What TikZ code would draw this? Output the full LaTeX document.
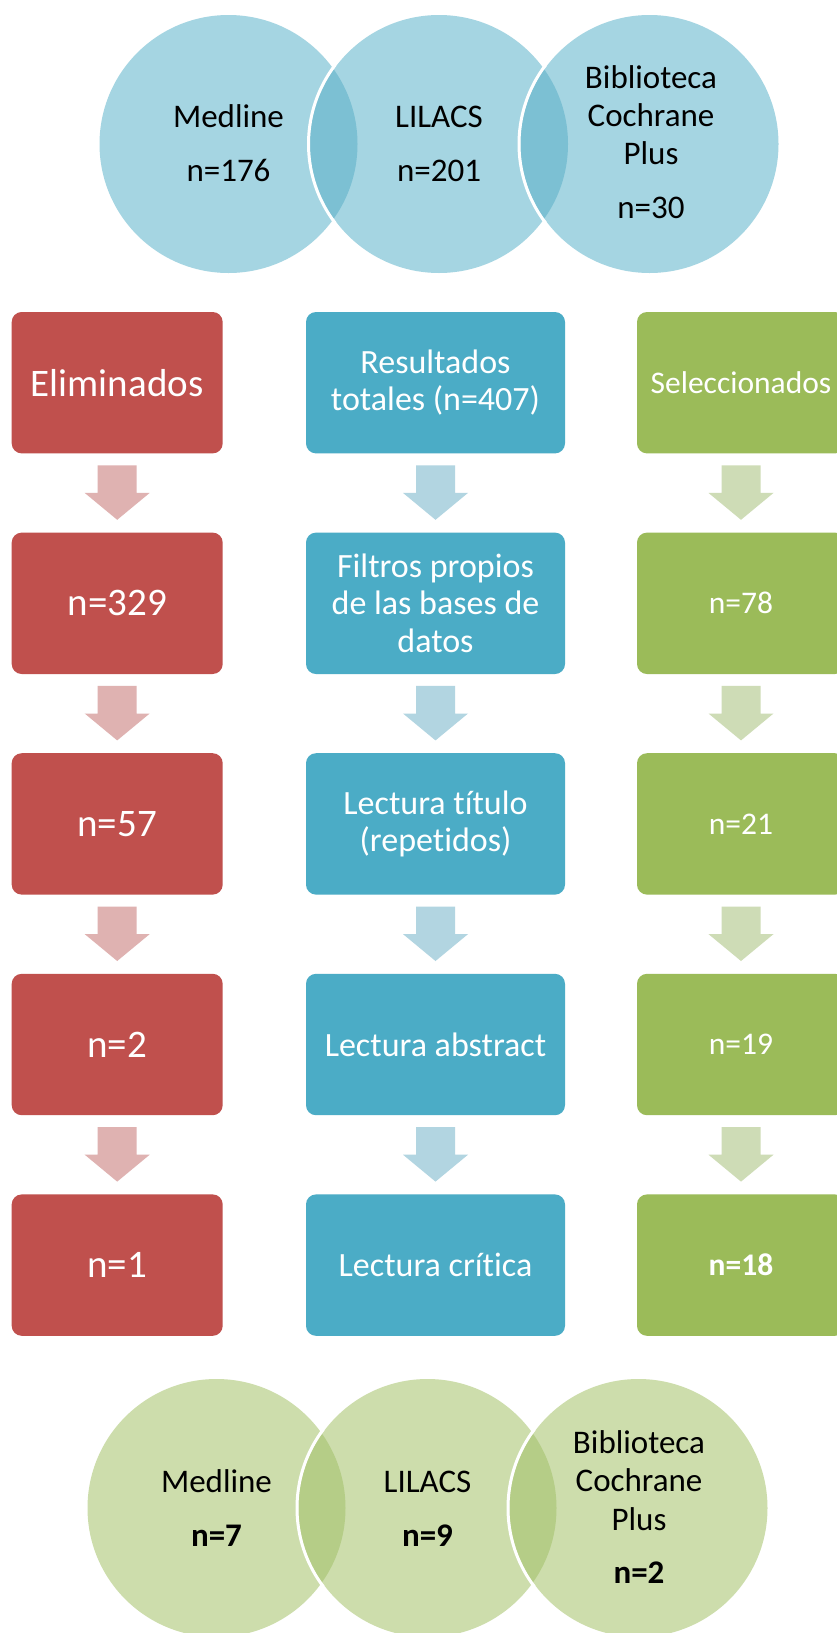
\documentclass[tikz,border=0pt]{standalone}
\usepackage{fontspec}
\setmainfont{Carlito}[Ligatures=NoCommon]
\usetikzlibrary{calc}
\definecolor{redc}{HTML}{C0504D}
\definecolor{bluec}{HTML}{4BACC6}
\definecolor{greenc}{HTML}{9BBB59}
\definecolor{redarr}{HTML}{DFB2B1}
\definecolor{bluearr}{HTML}{B2D5E1}
\definecolor{greenarr}{HTML}{CEDCB6}
\definecolor{topc}{HTML}{A5D5E2}
\definecolor{topdark}{HTML}{7CC0D3}
\definecolor{botc}{HTML}{CDDDAC}
\definecolor{botdark}{HTML}{B5CD87}
\newcommand\downblk[3]{%
  \fill[#3] ($(#1.south)+(-19.5,11.7)$) -- ($(#1.south)+(19.5,11.7)$)
    -- ($(#1.south)+(19.5,39.3)$) -- ($(#1.south)+(32.5,39.3)$)
    -- ($(#2.north)+(0,-12.6)$) -- ($(#1.south)+(-32.5,39.3)$)
    -- ($(#1.south)+(-19.5,39.3)$) -- cycle;}
\newcommand\vennlens[4]{%
  \begin{scope}
    \clip (#1.center) circle[radius=129pt];
    \fill[#3] (#2.center) circle[radius=129pt];
  \end{scope}
  \begin{scope}
    \clip (#1.center) circle[radius=133pt];
    \draw[white, line width=3pt] (#2.center) circle[radius=130.5pt];
  \end{scope}}
\begin{document}
\begin{tikzpicture}[x=1pt,y=-1pt,
  box/.style={rectangle, rounded corners=10pt, inner sep=0pt, minimum height=141.4pt, text=white, align=center},
  redbox/.style={box, fill=redc, minimum width=211pt, font=\fontsize{39pt}{43pt}\selectfont},
  bluebox/.style={box, fill=bluec, minimum width=259pt, font=\fontsize{34pt}{37.5pt}\selectfont},
  greenbox/.style={box, fill=greenc, minimum width=208pt, font=\fontsize{31.5pt}{35pt}\selectfont},
  venn/.style={circle, inner sep=0pt, minimum size=258pt},
  vtext/.style={anchor=base, inner sep=0pt, font=\fontsize{33pt}{38pt}\selectfont, text=black},
]
\useasboundingbox (0,0) rectangle (836,1633);
\fill[white] (0,0) rectangle (836,1633);

% top venn
\node[venn, fill=topc] (t1) at (228.5,144) {};
\node[venn, fill=topc] (t2) at (439,144) {};
\node[venn, fill=topc] (t3) at (649.5,144) {};
\vennlens{t1}{t2}{topdark}{}
\vennlens{t2}{t3}{topdark}{}
\node[vtext] (t1a) at (228.5,127.7) {Medline};
\node[vtext] (t1b) at (228.5,181) {n=176};
\node[vtext] (t2a) at (439,127.7) {LILACS};
\node[vtext] (t2b) at (439,181) {n=201};
\node[vtext] (t3a) at (651,88) {Biblioteca};
\node[vtext] (t3b) at (651,126) {Cochrane};
\node[vtext] (t3c) at (651,164) {Plus};
\node[vtext] (t3d) at (651,218) {n=30};

% boxes
\node[redbox] (r1) at (117.2,382.7) {Eliminados};
\node[redbox] (r2) at (117.2,603.3) {n=329};
\node[redbox] (r3) at (117.2,823.9) {n=57};
\node[redbox] (r4) at (117.2,1044.5) {n=2};
\node[redbox] (r5) at (117.2,1265.1) {n=1};

\node[bluebox] (b1) at (435.5,382.7) {Resultados\\totales (n=407)};
\node[bluebox] (b2) at (435.5,603.3) {Filtros propios\\de las bases de\\datos};
\node[bluebox] (b3) at (435.5,823.9) {Lectura título\\(repetidos)};
\node[bluebox] (b4) at (435.5,1044.5) {Lectura abstract};
\node[bluebox] (b5) at (435.5,1265.1) {Lectura crítica};

\node[greenbox] (g1) at (741,382.7) {Seleccionados};
\node[greenbox] (g2) at (741,603.3) {n=78};
\node[greenbox] (g3) at (741,823.9) {n=21};
\node[greenbox] (g4) at (741,1044.5) {n=19};
\node[greenbox] (g5) at (741,1265.1) {\bfseries n=18};

% arrows
\downblk{r1}{r2}{redarr}
\downblk{r2}{r3}{redarr}
\downblk{r3}{r4}{redarr}
\downblk{r4}{r5}{redarr}
\downblk{b1}{b2}{bluearr}
\downblk{b2}{b3}{bluearr}
\downblk{b3}{b4}{bluearr}
\downblk{b4}{b5}{bluearr}
\downblk{g1}{g2}{greenarr}
\downblk{g2}{g3}{greenarr}
\downblk{g3}{g4}{greenarr}
\downblk{g4}{g5}{greenarr}

% bottom venn
\node[venn, fill=botc] (v1) at (216.5,1508) {};
\node[venn, fill=botc] (v2) at (427.5,1508) {};
\node[venn, fill=botc] (v3) at (638.5,1508) {};
\vennlens{v1}{v2}{botdark}{}
\vennlens{v2}{v3}{botdark}{}
\node[vtext] (v1a) at (216.5,1492) {Medline};
\node[vtext] (v1b) at (216.5,1546) {\bfseries n=7};
\node[vtext] (v2a) at (427.5,1492) {LILACS};
\node[vtext] (v2b) at (427.5,1546) {\bfseries n=9};
\node[vtext] (v3a) at (639,1453) {Biblioteca};
\node[vtext] (v3b) at (639,1491) {Cochrane};
\node[vtext] (v3c) at (639,1530) {Plus};
\node[vtext] (v3d) at (639,1583) {\bfseries n=2};
\end{tikzpicture}
\end{document}
